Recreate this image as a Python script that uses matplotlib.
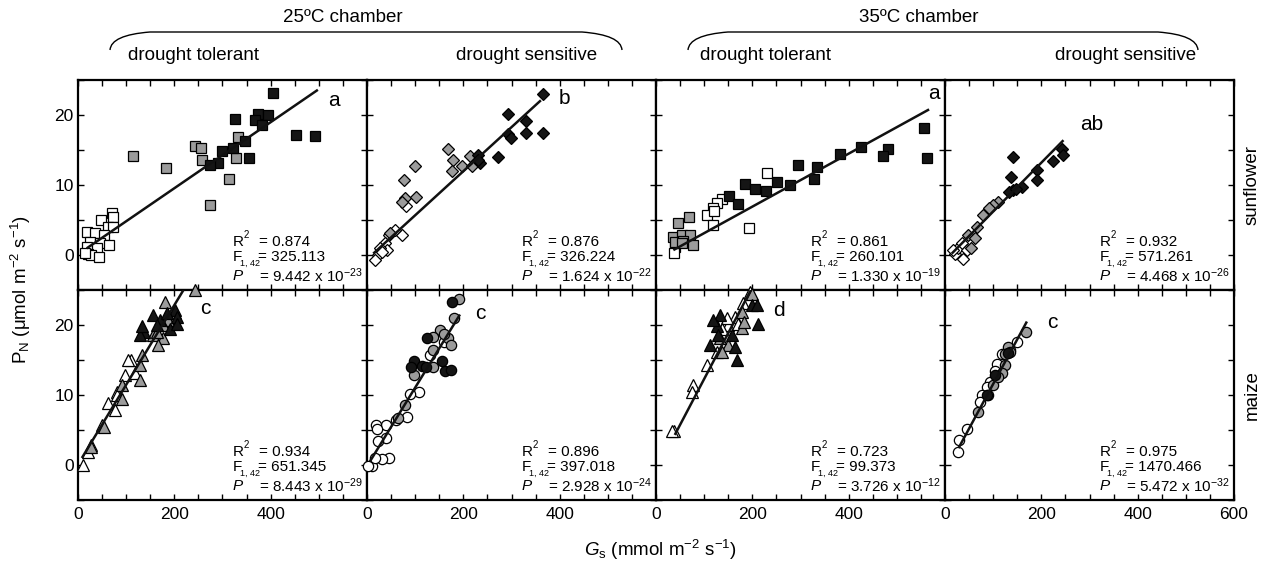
import matplotlib
matplotlib.use("Agg")
import matplotlib.pyplot as plt
from matplotlib.ticker import MultipleLocator, FuncFormatter
from matplotlib.path import Path
from matplotlib.patches import PathPatch

plt.rcParams['font.family'] = ['Liberation Sans', 'DejaVu Sans']
plt.rcParams['mathtext.fontset'] = 'custom'
plt.rcParams['mathtext.rm'] = 'Liberation Sans'
plt.rcParams['mathtext.it'] = 'Liberation Sans:italic'
plt.rcParams['mathtext.bf'] = 'Liberation Sans:bold'

# ---------------- data (Gs, PN) ----------------
# Panel 1: sunflower, 25C, drought tolerant (squares)
p1_black_x = [405, 326, 374, 395, 367, 381, 452, 493, 347, 322, 298, 355, 291, 274]
p1_black_y = [23.1, 19.4, 20.2, 20.0, 19.3, 18.6, 17.2, 17.0, 16.3, 15.3, 14.9, 13.9, 13.2, 12.9]
p1_gray_x = [115, 183, 243, 255, 257, 333, 328, 314, 274]
p1_gray_y = [14.1, 12.4, 15.6, 15.3, 13.6, 16.9, 13.9, 10.9, 7.2]
p1_white_x = [70, 73, 47, 63, 72, 19, 35, 53, 25, 46, 65, 18, 39, 21, 28, 44, 15]
p1_white_y = [6.0, 5.5, 5.0, 4.0, 4.0, 3.3, 3.2, 2.9, 1.9, 1.7, 1.4, 1.2, 1.0, 0.2, 0.0, -0.3, 0.3]
p1_fit_x = [18, 498]
p1_fit_y = [0.95, 23.6]

# Panel 2: sunflower, 25C, drought sensitive (diamonds)
p2_black_x = [366, 292, 330, 330, 366, 293, 298, 273, 231, 235, 230]
p2_black_y = [23.0, 20.2, 19.2, 17.5, 17.5, 17.3, 16.7, 14.0, 14.3, 13.1, 13.6]
p2_gray_x = [169, 178, 177, 197, 214, 219, 100, 77, 79, 101, 73, 48]
p2_gray_y = [15.1, 13.6, 12.0, 12.7, 14.1, 12.7, 12.7, 10.7, 8.1, 8.3, 7.6, 3.1]
p2_white_x = [82, 72, 46, 37, 41, 27, 23, 17, 32, 58]
p2_white_y = [7.0, 2.9, 2.9, 1.7, 0.7, 1.0, 0.0, -0.7, 0.5, 3.6]
p2_fit_x = [13, 361]
p2_fit_y = [0.2, 22.1]

# Panel 3: sunflower, 35C, drought tolerant (squares)
p3_black_x = [556, 562, 426, 481, 472, 382, 295, 334, 327, 278, 252, 185, 206, 228, 152, 170]
p3_black_y = [18.2, 13.8, 15.5, 15.2, 14.1, 14.4, 12.8, 12.6, 10.9, 10.0, 10.5, 10.2, 9.5, 9.2, 8.4, 7.3]
p3_gray_x = [69, 45, 36, 53, 71, 39, 57, 77, 53]
p3_gray_y = [5.5, 4.6, 2.6, 2.9, 2.9, 1.9, 2.0, 1.5, 1.7]
p3_white_x = [230, 193, 138, 126, 119, 105, 119, 39, 38, 121]
p3_white_y = [11.7, 3.9, 8.0, 7.4, 6.7, 5.7, 4.3, 1.2, 0.3, 6.3]
p3_fit_x = [36, 567]
p3_fit_y = [0.7, 20.8]

# Panel 4: sunflower, 35C, drought sensitive (diamonds)
p4_black_x = [142, 136, 242, 244, 225, 190, 192, 159, 142, 133, 147]
p4_black_y = [14.0, 11.1, 15.2, 14.3, 13.4, 12.2, 10.7, 9.7, 9.3, 9.0, 9.5]
p4_gray_x = [111, 99, 78, 66, 48, 62, 55, 92]
p4_gray_y = [7.6, 7.1, 5.7, 4.0, 2.9, 2.4, 1.0, 6.7]
p4_white_x = [21, 38, 28, 35, 45, 17]
p4_white_y = [0.2, -0.5, 1.0, 1.7, 0.7, 0.7]
p4_fit_x = [14, 246]
p4_fit_y = [0.2, 16.4]

# Panel 5: maize, 25C, drought tolerant (triangles)
p5_black_x = [156, 136, 129, 170, 201, 205, 191, 205, 184, 132, 163]
p5_black_y = [21.4, 19.0, 18.6, 20.7, 22.1, 21.2, 19.5, 20.2, 21.7, 19.8, 20.0]
p5_gray_x = [243, 181, 201, 187, 177, 156, 177, 167, 132, 129, 129, 91, 91, 53, 28, 163]
p5_gray_y = [25.0, 23.3, 21.7, 20.7, 20.0, 18.6, 18.1, 17.1, 15.7, 14.3, 12.1, 11.4, 9.5, 5.5, 2.6, 19.0]
p5_white_x = [111, 104, 98, 80, 63, 77, 49, 28, 21, 11, 118, 80]
p5_white_y = [15.0, 15.0, 12.9, 10.5, 8.8, 7.9, 5.7, 2.9, 1.9, 0.0, 13.1, 10.0]
p5_fit_x = [8, 219]
p5_fit_y = [1.0, 25.0]

# Panel 6: maize, 25C, drought sensitive (circles)
p6_black_x = [177, 124, 98, 91, 114, 155, 162, 174, 122]
p6_black_y = [23.3, 18.2, 14.9, 14.0, 14.1, 14.8, 13.4, 13.6, 14.0]
p6_gray_x = [192, 181, 152, 138, 169, 174, 138, 138, 98, 79, 65, 160]
p6_gray_y = [23.7, 21.0, 19.3, 18.3, 18.1, 17.2, 16.4, 14.0, 12.9, 8.6, 6.7, 18.7]
p6_white_x = [131, 107, 89, 84, 60, 39, 18, 20, 39, 23, 46, 31, 10, 3, 17, 160]
p6_white_y = [15.7, 10.5, 10.2, 6.8, 6.4, 5.7, 5.7, 5.1, 3.9, 3.4, 1.0, 0.9, -0.2, -0.2, 1.0, 17.6]
p6_fit_x = [6, 193]
p6_fit_y = [0.5, 21.5]

# Panel 7: maize, 35C, drought tolerant (triangles)
p7_black_x = [133, 126, 129, 112, 157, 164, 168, 199, 209, 212, 119]
p7_black_y = [21.4, 19.8, 18.6, 17.1, 18.6, 16.9, 15.0, 22.9, 22.8, 20.1, 20.7]
p7_gray_x = [199, 178, 178, 183, 150, 136, 132]
p7_gray_y = [24.5, 21.9, 19.6, 20.4, 17.1, 16.2, 18.1]
p7_white_x = [195, 181, 164, 150, 171, 147, 136, 126, 105, 77, 74, 38, 33]
p7_white_y = [24.7, 23.1, 21.2, 20.0, 20.2, 21.0, 19.5, 16.2, 14.3, 11.4, 10.5, 4.8, 4.8]
p7_fit_x = [39, 197]
p7_fit_y = [4.3, 25.0]

# Panel 8: maize, 35C, drought sensitive (circles)
p8_black_x = [104, 87, 131]
p8_black_y = [12.9, 10.0, 16.0]
p8_gray_x = [168, 131, 135, 125, 125, 118, 100, 90, 69, 111]
p8_gray_y = [19.0, 16.8, 16.2, 15.9, 14.3, 13.1, 11.4, 10.0, 7.6, 12.6]
p8_white_x = [149, 135, 107, 104, 93, 87, 76, 73, 45, 30, 26, 118]
p8_white_y = [17.6, 16.4, 14.5, 13.4, 11.9, 11.2, 10.0, 9.0, 5.2, 3.6, 1.9, 15.8]
p8_fit_x = [28, 170]
p8_fit_y = [2.4, 20.5]

# Statistics per panel
r2_values = ["0.874", "0.876", "0.861", "0.932", "0.934", "0.896", "0.723", "0.975"]
f_values = ["325.113", "326.224", "260.101", "571.261", "651.345", "397.018", "99.373", "1470.466"]
p_mantissa = ["9.442", "1.624", "1.330", "4.468", "8.443", "2.928", "3.726", "5.472"]
p_exponent = ["-23", "-22", "-19", "-26", "-29", "-24", "-12", "-32"]
group_letters = ["a", "b", "a", "ab", "c", "c", "d", "c"]
letter_pos_x = [519, 397, 565, 280, 253, 224, 243, 212]
letter_pos_y = [22.1, 22.4, 23.1, 18.6, 22.4, 21.7, 22.1, 20.3]

col_titles = ["drought tolerant", "drought sensitive", "drought tolerant", "drought sensitive"]
chamber_titles = ["25ºC chamber", "35ºC chamber"]
row_titles = ["sunflower", "maize"]

panels = [
    (p1_black_x, p1_black_y, p1_gray_x, p1_gray_y, p1_white_x, p1_white_y, p1_fit_x, p1_fit_y, 's'),
    (p2_black_x, p2_black_y, p2_gray_x, p2_gray_y, p2_white_x, p2_white_y, p2_fit_x, p2_fit_y, 'D'),
    (p3_black_x, p3_black_y, p3_gray_x, p3_gray_y, p3_white_x, p3_white_y, p3_fit_x, p3_fit_y, 's'),
    (p4_black_x, p4_black_y, p4_gray_x, p4_gray_y, p4_white_x, p4_white_y, p4_fit_x, p4_fit_y, 'D'),
    (p5_black_x, p5_black_y, p5_gray_x, p5_gray_y, p5_white_x, p5_white_y, p5_fit_x, p5_fit_y, '^'),
    (p6_black_x, p6_black_y, p6_gray_x, p6_gray_y, p6_white_x, p6_white_y, p6_fit_x, p6_fit_y, 'o'),
    (p7_black_x, p7_black_y, p7_gray_x, p7_gray_y, p7_white_x, p7_white_y, p7_fit_x, p7_fit_y, '^'),
    (p8_black_x, p8_black_y, p8_gray_x, p8_gray_y, p8_white_x, p8_white_y, p8_fit_x, p8_fit_y, 'o'),
]

# ---------------- figure ----------------
W, H = 1268, 563
fig = plt.figure(figsize=(W / 100, H / 100), dpi=100)

col_left_px = [78, 367, 656, 945]
col_w_px = 289
row_top_px = [80, 290]
row_h_px = 210

marker_sizes = {'s': 7.8, 'D': 6.2, '^': 8.2, 'o': 7.4}
fill_colors = {'white': 'white', 'gray': '#9b9b9b', 'black': '#151515'}

for idx, (bx, by, gx, gy, wx, wy, fx, fy, mk) in enumerate(panels):
    r, c = divmod(idx, 4)
    left = col_left_px[c] / W
    bottom = 1 - (row_top_px[r] + row_h_px) / H
    ax = fig.add_axes([left, bottom, col_w_px / W, row_h_px / H])
    ax.set_xlim(0, 600)
    ax.set_ylim(-5, 25)
    ms = marker_sizes[mk]
    for xs, ys, key in ((wx, wy, 'white'), (gx, gy, 'gray'), (bx, by, 'black')):
        ax.plot(xs, ys, linestyle='none', marker=mk, ms=ms, mfc=fill_colors[key],
                mec='black', mew=0.9, clip_on=False, zorder=3)
    ax.plot(fx, fy, color='#111111', lw=1.8, zorder=4, solid_capstyle='butt')

    # ticks
    ax.xaxis.set_major_locator(MultipleLocator(50))
    ax.yaxis.set_major_locator(MultipleLocator(5))
    maxx = 600 if c == 3 else 400
    ax.xaxis.set_major_formatter(FuncFormatter(
        lambda v, p, m=maxx: f"{int(round(v))}" if (round(v) % 200 == 0 and v <= m + 1) else ""))
    ax.yaxis.set_major_formatter(FuncFormatter(
        lambda v, p: f"{int(round(v))}" if (round(v) % 10 == 0 and v >= -0.1) else ""))
    ax.tick_params(direction='in', length=4, width=1.0, top=True, right=True,
                   labelsize=12.5, pad=5, colors='black')
    ax.tick_params(axis='x', labelbottom=(r == 1))
    ax.tick_params(axis='y', labelleft=(c == 0), pad=3)
    for sp in ax.spines.values():
        sp.set_linewidth(1.6)

    # statistics
    fs = 11
    ax.text(0.535, 0.229, "R", transform=ax.transAxes, fontsize=fs, va='center', ha='left')
    ax.text(0.573, 0.262, "2", transform=ax.transAxes, fontsize=7, va='center', ha='left')
    ax.text(0.625, 0.229, "= " + r2_values[idx], transform=ax.transAxes, fontsize=fs, va='center', ha='left')
    ax.text(0.535, 0.155, "F", transform=ax.transAxes, fontsize=fs, va='center', ha='left')
    ax.text(0.562, 0.128, "1, 42", transform=ax.transAxes, fontsize=6.5, va='center', ha='left')
    ax.text(0.622, 0.155, "= " + f_values[idx], transform=ax.transAxes, fontsize=fs, va='center', ha='left')
    ax.text(0.535, 0.068, "P", transform=ax.transAxes, fontsize=fs, va='center', ha='left',
            fontstyle='italic')
    ax.text(0.625, 0.068, "= " + p_mantissa[idx] + " x 10$^{" + p_exponent[idx] + "}$",
            transform=ax.transAxes, fontsize=fs, va='center', ha='left')
    ax.text(letter_pos_x[idx], letter_pos_y[idx], group_letters[idx], fontsize=15,
            va='center', ha='left')

# column titles
title_cx = [194, 527, 766, 1126]
for cx, t in zip(title_cx, col_titles):
    fig.text(cx / W, 1 - 55 / H, t, fontsize=13.5, ha='center', va='center')
for cx, t in zip([343, 919], chamber_titles):
    fig.text(cx / W, 1 - 18 / H, t, fontsize=13.5, ha='center', va='center')

# braces
def brace(x0, x1):
    yb, yt = 50, 32
    pts = [(x0, yb), (x0 + 1, yt + 3), (x0 + 40, yt), (x1 - 40, yt),
           (x1 - 1, yt + 3), (x1, yb)]
    codes = [Path.MOVETO, Path.CURVE3, Path.CURVE3, Path.LINETO, Path.CURVE3, Path.CURVE3]
    verts = [(x / W, 1 - y / H) for x, y in pts]
    fig.add_artist(PathPatch(Path(verts, codes), transform=fig.transFigure,
                             fill=False, lw=1.0, edgecolor='black'))

brace(110, 622)
brace(688, 1198)

# row titles
for cy, t in zip([185, 395], row_titles):
    fig.text(1252 / W, 1 - cy / H, t, fontsize=13.5, rotation=90, ha='center', va='center')

# axis labels
fig.text(21 / W, 1 - 290 / H, r"P$_\mathrm{N}$ ($\mathrm{\mu}$mol m$^{-2}$ s$^{-1}$)",
         fontsize=13.5, rotation=90, ha='center', va='center')
fig.text(660 / W, 1 - 550 / H, r"$G_\mathrm{s}$ (mmol m$^{-2}$ s$^{-1}$)",
         fontsize=13.5, ha='center', va='center')

fig.savefig("out.png", dpi=100)
